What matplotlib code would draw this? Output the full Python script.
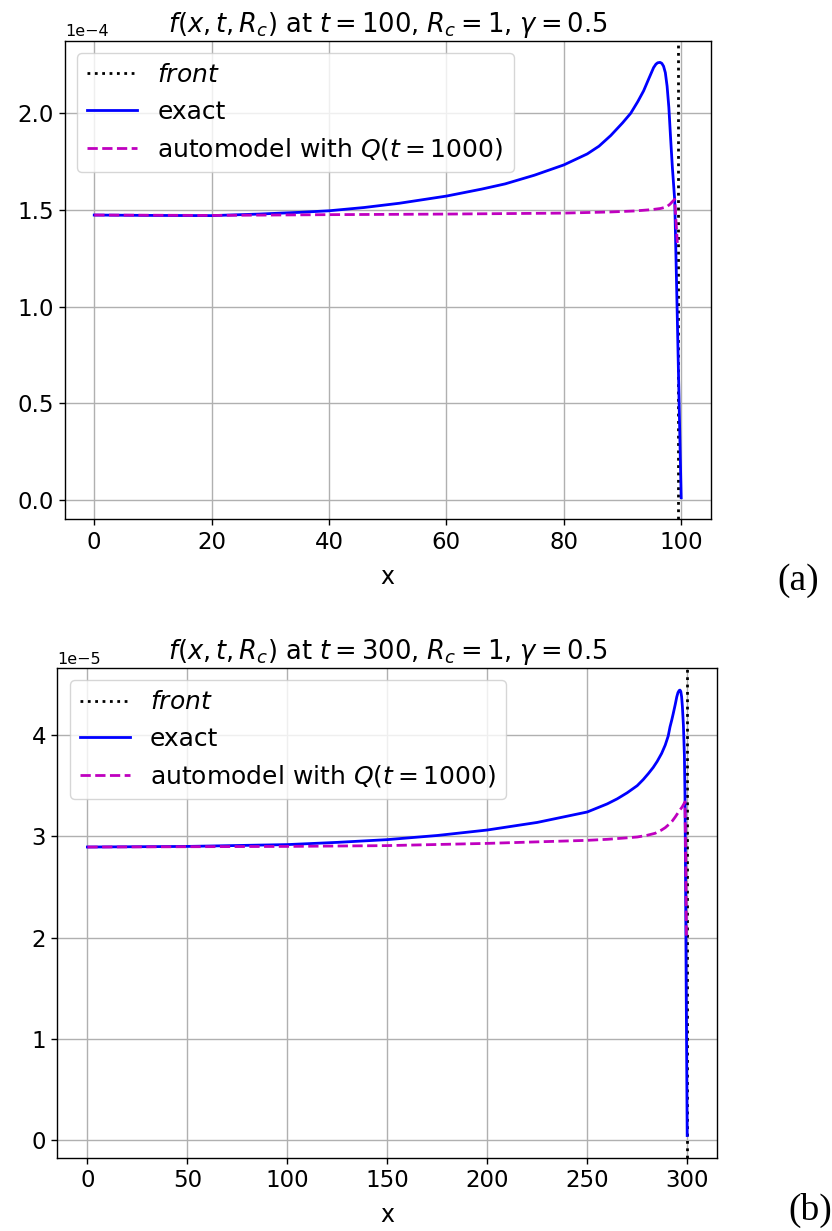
import numpy as np
import matplotlib
matplotlib.use("Agg")
import matplotlib.pyplot as plt

### values
# panel (a): t = 100, values in units of 1e-4
xa_exact = [0, 10, 20, 28, 35, 40, 46, 52, 60, 66, 70, 75, 80, 84, 86, 88, 90,
            91.4, 92.6, 93.6, 94.5, 95.3, 95.7, 96.0, 96.4, 96.7, 97.0, 97.3, 97.6,
            97.9, 98.2, 98.5, 98.9, 99.3, 99.65, 100]
ya_exact = [1.474, 1.472, 1.471, 1.479, 1.488, 1.496, 1.513, 1.535, 1.572, 1.608,
            1.635, 1.68, 1.733, 1.79, 1.83, 1.885, 1.95, 2.0, 2.06, 2.116, 2.18,
            2.236, 2.254, 2.261, 2.263, 2.258, 2.243, 2.21, 2.14, 2.03, 1.87, 1.72,
            1.55, 1.0, 0.5, 0.013]
xa_auto = [0, 20, 40, 60, 80, 88, 92, 95, 96.5, 97.5, 98.1, 98.5, 98.9, 99.1, 99.35]
ya_auto = [1.474, 1.472, 1.476, 1.479, 1.484, 1.49, 1.495, 1.502, 1.508, 1.516,
           1.53, 1.543, 1.555, 1.45, 1.33]
front_a = 99.5

# panel (b): t = 300, values in units of 1e-5
xb_exact = [0, 50, 100, 125, 150, 175, 200, 225, 250, 255, 260, 265, 270, 275, 278,
            280.6, 283, 285, 287.2, 289, 290.5, 291.4, 292.3, 293, 294, 294.8, 295.4,
            296, 296.4, 296.8, 297.2, 297.6, 298.1, 298.6, 298.9, 299.2, 299.5, 300]
yb_exact = [2.894, 2.90, 2.918, 2.94, 2.967, 3.008, 3.062, 3.137, 3.24, 3.28, 3.32,
            3.37, 3.43, 3.50, 3.56, 3.62, 3.68, 3.74, 3.818, 3.9, 3.99, 4.08, 4.15,
            4.21, 4.30, 4.378, 4.42, 4.44, 4.444, 4.43, 4.38, 4.28, 4.1, 3.8, 3.4,
            2.5, 1.5, 0.045]
xb_auto = [0, 50, 100, 150, 200, 250, 260, 270, 275, 280, 284, 287, 289, 291, 292.5,
           294, 295, 296, 297.5, 298.5, 298.9, 299.3, 299.6]
yb_auto = [2.894, 2.897, 2.90, 2.908, 2.93, 2.96, 2.97, 2.985, 2.993, 3.01, 3.03,
           3.06, 3.085, 3.12, 3.15, 3.19, 3.22, 3.25, 3.29, 3.325, 3.34, 2.7, 2.0]
front_b = 299.9

panels = [
    dict(x=xa_exact, y=ya_exact, xq=xa_auto, yq=ya_auto, front=front_a, scale=1e-4,
         t=100, tag='(a)', rect=[0.078, 0.578, 0.776, 0.389], tagpos=(0.934, 0.521)),
    dict(x=xb_exact, y=yb_exact, xq=xb_auto, yq=yb_auto, front=front_b, scale=1e-5,
         t=300, tag='(b)', rect=[0.069, 0.0595, 0.793, 0.398], tagpos=(0.948, 0.009)),
]

### plot
fig = plt.figure(figsize=(8.32, 12.31), dpi=100)

for p in panels:
    ax = fig.add_axes(p['rect'])
    ax.axvline(p['front'], color='k', ls=':', lw=2, label='$front$')
    ax.plot(p['x'], np.array(p['y']) * p['scale'], color='b', lw=2, label='exact')
    ax.plot(p['xq'], np.array(p['yq']) * p['scale'], color='m', ls='--', lw=2,
            label='automodel with $Q(t = 1000)$')
    ax.set_title(r'$f(x, t, R_c)$ at $t = %d$, $R_c = 1$, $\gamma = 0.5$' % p['t'],
                 fontsize=18.5)
    ax.set_xlabel('x', fontsize=17, labelpad=8)
    ax.ticklabel_format(axis='y', style='sci', scilimits=(0, 0))
    ax.tick_params(labelsize=16.5, length=4.5, width=1)
    ax.yaxis.get_offset_text().set_fontsize(11.5)
    for s in ax.spines.values():
        s.set_linewidth(1)
    ax.grid(True, lw=1)
    ax.legend(loc='upper left', fontsize=18)
    fig.text(p['tagpos'][0], p['tagpos'][1], p['tag'], family='Liberation Serif',
             fontsize=27)

fig.savefig('out.png', dpi=100)
